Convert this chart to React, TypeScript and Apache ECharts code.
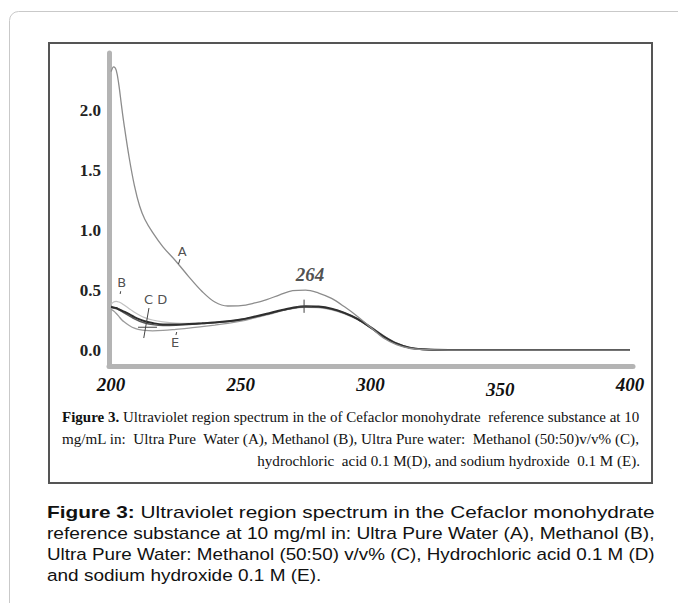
import React, { useEffect, useRef } from "react";
import * as echarts from "echarts";

// ---------- data ----------
const wavelengths = [200, 201, 202, 203, 204, 205, 207, 209, 211, 213, 216, 220, 225, 230, 235, 240, 245, 250, 255, 260, 265, 270, 275, 280, 285, 290, 295, 300, 305, 310, 315, 320, 330, 340, 350, 360, 370, 380, 390, 400];

const absorbanceA = [2.32, 2.36, 2.33, 2.21, 2.04, 1.88, 1.6, 1.37, 1.2, 1.09, 0.98, 0.86, 0.74, 0.61, 0.49, 0.4, 0.367, 0.37, 0.39, 0.42, 0.46, 0.495, 0.5, 0.475, 0.43, 0.36, 0.28, 0.19, 0.1, 0.045, 0.015, 0.005, 0, 0, 0, 0, 0, 0, 0, 0];
const absorbanceB = [0.38, 0.4, 0.405, 0.4, 0.39, 0.375, 0.345, 0.315, 0.29, 0.27, 0.25, 0.235, 0.225, 0.223, 0.226, 0.232, 0.242, 0.256, 0.276, 0.3, 0.325, 0.345, 0.355, 0.352, 0.335, 0.3, 0.255, 0.19, 0.118, 0.058, 0.022, 0.007, 0, 0, 0, 0, 0, 0, 0, 0];
const absorbanceC = [0.36, 0.355, 0.35, 0.34, 0.33, 0.32, 0.3, 0.275, 0.255, 0.24, 0.225, 0.213, 0.212, 0.217, 0.223, 0.23, 0.24, 0.255, 0.277, 0.302, 0.33, 0.353, 0.365, 0.362, 0.345, 0.31, 0.26, 0.19, 0.115, 0.055, 0.02, 0.006, 0, 0, 0, 0, 0, 0, 0, 0];
const absorbanceD = [0.355, 0.35, 0.345, 0.335, 0.322, 0.31, 0.285, 0.26, 0.24, 0.225, 0.212, 0.205, 0.207, 0.213, 0.22, 0.228, 0.238, 0.252, 0.273, 0.298, 0.325, 0.348, 0.36, 0.358, 0.34, 0.305, 0.255, 0.185, 0.11, 0.052, 0.018, 0.005, 0, 0, 0, 0, 0, 0, 0, 0];
const absorbanceE = [0.34, 0.325, 0.305, 0.28, 0.255, 0.235, 0.205, 0.182, 0.17, 0.163, 0.16, 0.163, 0.172, 0.182, 0.195, 0.208, 0.222, 0.24, 0.265, 0.292, 0.322, 0.348, 0.362, 0.36, 0.343, 0.31, 0.262, 0.195, 0.12, 0.058, 0.022, 0.007, 0, 0, 0, 0, 0, 0, 0, 0];

const xTickValues = [200, 250, 300, 350, 400];
const yTickValues = [0, 0.5, 1.0, 1.5, 2.0];

const curveLabels = [
  { text: "A", nm: 227.4, value: 0.82 },
  { text: "B", nm: 204.1, value: 0.56 },
  { text: "C D", nm: 217.2, value: 0.42 },
  { text: "E", nm: 224.7, value: 0.06 },
];
const peakLabel = { text: "264", nm: 276.7, value: 0.63 };

const markSegments = [
  [[226.6, 0.758], [226.0, 0.717]],
  [[203.7, 0.49], [203.5, 0.467]],
  [[225.3, 0.15], [225.0, 0.125]],
  [[214.6, 0.35], [212.6, 0.1]],
  [[210.4, 0.19], [217.7, 0.19]],
  [[274.4, 0.42], [274.4, 0.31]],
  [[271.7, 0.36], [277.5, 0.36]],
];

const innerCaption = {
  boldLead: "Figure 3.",
  line1: " Ultraviolet region spectrum in the of Cefaclor monohydrate  reference substance at 10",
  line2: "mg/mL in:  Ultra Pure  Water (A), Methanol (B), Ultra Pure water:  Methanol (50:50)v/v% (C),",
  line3: "hydrochloric  acid 0.1 M(D), and sodium hydroxide  0.1 M (E).",
};

const outerCaption = {
  boldLead: "Figure 3:",
  line1: " Ultraviolet region spectrum in the Cefaclor monohydrate",
  line2: "reference substance at 10 mg/ml in: Ultra Pure Water (A), Methanol (B),",
  line3: "Ultra Pure Water: Methanol (50:50) v/v% (C), Hydrochloric acid 0.1 M (D)",
  line4: "and sodium hydroxide 0.1 M (E).",
};

// ---------- helpers ----------
let measureCtx: CanvasRenderingContext2D | null = null;
function measure(text: string, font: string): number {
  if (!measureCtx) measureCtx = document.createElement("canvas").getContext("2d");
  if (!measureCtx) return text.length * 7;
  measureCtx.font = font;
  return measureCtx.measureText(text).width;
}

export default function App() {
  const ref = useRef<HTMLDivElement>(null);

  useEffect(() => {
    if (!ref.current) return;
    const chart = echarts.init(ref.current, null, { renderer: "svg" });

    const serif = "'Liberation Serif', 'Times New Roman', serif";
    const sans = "'Liberation Sans', Arial, sans-serif";

    // inner caption (serif)
    const inSize = 14;
    const inLeft = 62;
    const inRight = 640;
    const inW = inRight - inLeft;
    const in1w = measure(innerCaption.boldLead, `bold ${inSize}px 'Liberation Serif'`) + measure(innerCaption.line1, `${inSize}px 'Liberation Serif'`);
    const in2w = measure(innerCaption.line2, `${inSize}px 'Liberation Serif'`);
    const inS1 = inW / in1w;
    const inS2 = inW / in2w;
    const inS3 = (inS1 + inS2) / 2;

    // outer caption (sans)
    const outSize = 17;
    const outLeft = 47;
    const outRight = 655;
    const outW = outRight - outLeft;
    const o1w = measure(outerCaption.boldLead, `bold ${outSize}px 'Liberation Sans'`) + measure(outerCaption.line1, `${outSize}px 'Liberation Sans'`);
    const o2w = measure(outerCaption.line2, `${outSize}px 'Liberation Sans'`);
    const o3w = measure(outerCaption.line3, `${outSize}px 'Liberation Sans'`);
    const oS1 = outW / o1w;
    const oS2 = outW / o2w;
    const oS3 = outW / o3w;
    const oS4 = (oS2 + oS3) / 2;

    const curves = [
      { name: "B", values: absorbanceB, color: "#c2c2c2", width: 1.2 },
      { name: "E", values: absorbanceE, color: "#9a9a9a", width: 1.3 },
      { name: "D", values: absorbanceD, color: "#5a5a5a", width: 1.4 },
      { name: "C", values: absorbanceC, color: "#2e2e2e", width: 2 },
      { name: "A", values: absorbanceA, color: "#8c8c8c", width: 1.3 },
    ];

    const outLines = [512, 533, 554, 575];

    const option: any = {
      animation: false,
      backgroundColor: "#ffffff",
      grid: { left: 109, right: 45, top: 53, bottom: 237, containLabel: false },
      xAxis: {
        type: "value",
        min: 199.2,
        max: 401.2,
        splitLine: { show: false },
        axisTick: { show: false },
        axisLine: { show: true, onZero: false, lineStyle: { color: "#b4b4b4", width: 5 } },
        axisLabel: {
          customValues: xTickValues,
          margin: 9,
          fontFamily: serif,
          fontStyle: "italic",
          fontWeight: "bold",
          fontSize: 19,
          color: "#111",
          formatter: (v: number) => (v === 350 ? `{low|${v}}` : `${v}`),
          rich: {
            low: {
              fontFamily: serif,
              fontStyle: "italic",
              fontWeight: "bold",
              fontSize: 19,
              color: "#111",
              padding: [5, 0, 0, 0],
            },
          },
        },
      },
      yAxis: {
        type: "value",
        min: -0.133,
        max: 2.475,
        splitLine: { show: false },
        axisTick: { show: false },
        axisLine: { show: true, onZero: false, lineStyle: { color: "#b4b4b4", width: 5 } },
        axisLabel: {
          customValues: yTickValues,
          margin: 8,
          fontFamily: serif,
          fontWeight: "bold",
          fontSize: 17,
          color: "#222",
          formatter: (v: number) => v.toFixed(1),
        },
      },
      series: [
        ...curves.map((c) => ({
          type: "line",
          name: c.name,
          data: wavelengths.map((w, i) => [w, c.values[i]]),
          smooth: 0.35,
          showSymbol: false,
          symbol: "none",
          lineStyle: { color: c.color, width: c.width },
          silent: true,
        })),
        ...markSegments.map((seg) => ({
          type: "line",
          data: seg,
          showSymbol: false,
          symbol: "none",
          lineStyle: { color: "#444", width: 1 },
          silent: true,
        })),
        {
          type: "scatter",
          symbolSize: 1,
          itemStyle: { color: "rgba(0,0,0,0)" },
          data: curveLabels.map((l) => ({ value: [l.nm, l.value], name: l.text })),
          label: {
            show: true,
            position: "inside",
            formatter: (p: any) => p.name,
            fontFamily: "'DejaVu Sans', sans-serif",
            fontSize: 13,
            color: "#222",
          },
          silent: true,
        },
        {
          type: "scatter",
          symbolSize: 1,
          itemStyle: { color: "rgba(0,0,0,0)" },
          data: [{ value: [peakLabel.nm, peakLabel.value], name: peakLabel.text }],
          label: {
            show: true,
            position: "inside",
            formatter: (p: any) => p.name,
            fontFamily: serif,
            fontStyle: "italic",
            fontWeight: "bold",
            fontSize: 19,
            color: "#222",
          },
          silent: true,
        },
      ],
      graphic: [
        {
          type: "rect",
          shape: { x: 9.5, y: 11.5, width: 720, height: 650, r: 9 },
          style: { fill: "none", stroke: "#c9c9c9", lineWidth: 1 },
          silent: true,
        },
        {
          type: "rect",
          shape: { x: 49, y: 43, width: 603, height: 440 },
          style: { fill: "none", stroke: "#555", lineWidth: 2 },
          silent: true,
        },
        {
          type: "text",
          x: inLeft,
          y: 417,
          scaleX: inS1,
          style: {
            x: 0,
            y: 0,
            text: `{b|${innerCaption.boldLead}}${innerCaption.line1}`,
            fontFamily: serif,
            fontSize: inSize,
            fill: "#111",
            verticalAlign: "middle",
            rich: { b: { fontFamily: serif, fontSize: inSize, fontWeight: "bold", fill: "#111" } },
          },
          silent: true,
        },
        {
          type: "text",
          x: inLeft,
          y: 439,
          scaleX: inS2,
          style: { x: 0, y: 0, text: innerCaption.line2, fontFamily: serif, fontSize: inSize, fill: "#111", verticalAlign: "middle" },
          silent: true,
        },
        {
          type: "text",
          x: inRight,
          y: 461,
          scaleX: inS3,
          style: { x: 0, y: 0, text: innerCaption.line3, fontFamily: serif, fontSize: inSize, fill: "#111", align: "right", verticalAlign: "middle" },
          silent: true,
        },
        {
          type: "text",
          x: outLeft,
          y: outLines[0],
          scaleX: oS1,
          style: {
            x: 0,
            y: 0,
            text: `{b|${outerCaption.boldLead}}${outerCaption.line1}`,
            fontFamily: sans,
            fontSize: outSize,
            fill: "#111",
            verticalAlign: "middle",
            rich: { b: { fontFamily: sans, fontSize: outSize, fontWeight: "bold", fill: "#111" } },
          },
          silent: true,
        },
        {
          type: "text",
          x: outLeft,
          y: outLines[1],
          scaleX: oS2,
          style: { x: 0, y: 0, text: outerCaption.line2, fontFamily: sans, fontSize: outSize, fill: "#111", verticalAlign: "middle" },
          silent: true,
        },
        {
          type: "text",
          x: outLeft,
          y: outLines[2],
          scaleX: oS3,
          style: { x: 0, y: 0, text: outerCaption.line3, fontFamily: sans, fontSize: outSize, fill: "#111", verticalAlign: "middle" },
          silent: true,
        },
        {
          type: "text",
          x: outLeft,
          y: outLines[3],
          scaleX: oS4,
          style: { x: 0, y: 0, text: outerCaption.line4, fontFamily: sans, fontSize: outSize, fill: "#111", verticalAlign: "middle" },
          silent: true,
        },
      ],
    };

    chart.setOption(option);
    return () => chart.dispose();
  }, []);

  return (
    <div
      ref={ref}
      style={{ position: "fixed", left: 0, top: 0, width: 678, height: 603, background: "#fff" }}
    />
  );
}
